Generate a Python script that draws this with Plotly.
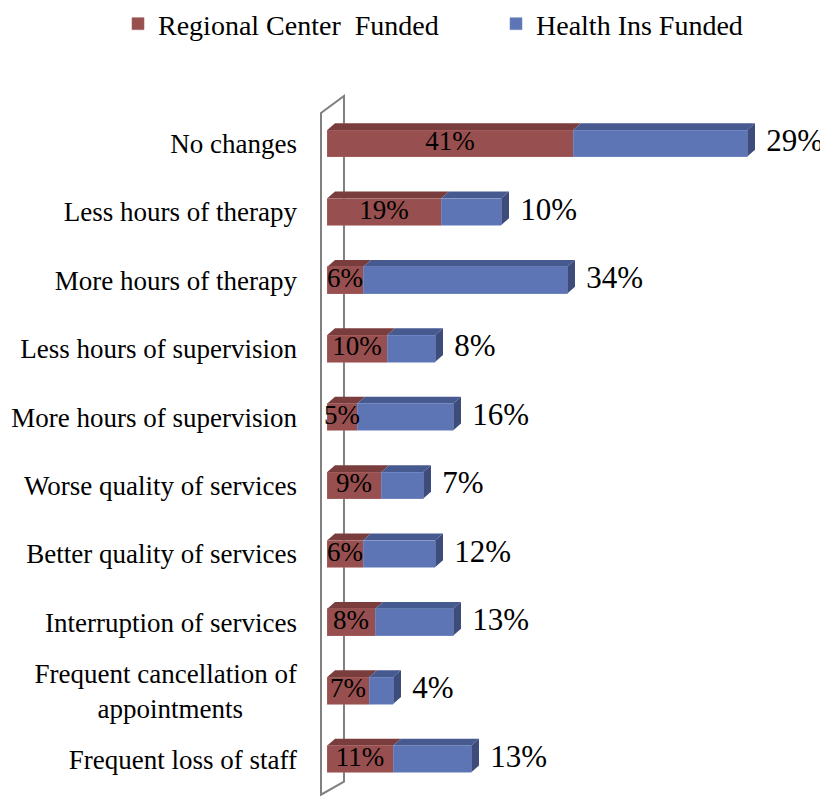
import plotly.graph_objects as go

categories = [
    "No changes",
    "Less hours of therapy",
    "More hours of therapy",
    "Less hours of supervision",
    "More hours of supervision",
    "Worse quality of services",
    "Better quality of services",
    "Interruption of services",
    "Frequent cancellation of<br>appointments\u00a0\u00a0\u00a0\u00a0\u00a0\u00a0\u00a0\u00a0",
    "Frequent loss of staff",
]
regional_center = [41, 19, 6, 10, 5, 9, 6, 8, 7, 11]
health_ins = [29, 10, 34, 8, 16, 7, 12, 13, 4, 13]
series_names = ["Regional Center  Funded", "Health Ins Funded"]

RED, RED_TOP = "#984F4F", "#7A3D3D"
BLUE, BLUE_TOP, BLUE_END = "#5E75B5", "#475A90", "#3E4C7C"
FONT = "Liberation Serif"

# the page body adds an 8px offset, so figure is 8px smaller than the window
W, H = 820, 790
ML, MR, MT, MB = 308, 0, 82, 0
PX_PER_UNIT = 6.0
ZERO_PX = 319
ROW_PX = 68.4
ROW0_PX = 135.5

xmin = -(ZERO_PX - ML) / PX_PER_UNIT
xmax = (W - MR - ZERO_PX) / PX_PER_UNIT
ytop = (MT - ROW0_PX) / ROW_PX
ybot = (H - MB - ROW0_PX) / ROW_PX

idx = list(range(len(categories)))
bar_w = 0.39
dx = 8 / PX_PER_UNIT
dy = 7 / ROW_PX

fig = go.Figure()
fig.add_trace(go.Bar(y=idx, x=regional_center, orientation="h", name=series_names[0],
                     marker=dict(color=RED, line=dict(color="#A86464", width=0.6)), width=bar_w,
                     legend="legend"))
fig.add_trace(go.Bar(y=idx, x=health_ins, orientation="h", name=series_names[1],
                     marker=dict(color=BLUE, line=dict(color="#7B8FC6", width=0.6)), width=bar_w,
                     legend="legend2"))

totals = [r + b for r, b in zip(regional_center, health_ins)]

# inside labels for Regional Center
fig.add_trace(go.Scatter(y=idx, x=[r / 2 for r in regional_center], mode="text",
                         text=[f"{r}%" for r in regional_center], textposition="middle center",
                         textfont=dict(family=FONT, size=27, color="black"),
                         showlegend=False, cliponaxis=False, hoverinfo="skip"))
# outside labels for Health Ins
fig.add_trace(go.Scatter(y=idx, x=[t + 3.2 for t in totals], mode="text",
                         text=[f"{b}%" for b in health_ins], textposition="middle right",
                         textfont=dict(family=FONT, size=31, color="black"),
                         showlegend=False, cliponaxis=False, hoverinfo="skip"))

shapes = []
# back wall
wall = "M -1.0,-0.446 L -1.0,9.52 L 2.83,9.33 L 2.83,-0.696 Z"
shapes.append(dict(type="path", path=wall, xref="x", yref="y", layer="below",
                   line=dict(color="#808080", width=2), fillcolor="rgba(0,0,0,0)"))

for i, r, b in zip(idx, regional_center, health_ins):
    yt = i - bar_w / 2
    yb = i + bar_w / 2
    for x0, x1, col in ((0, r, RED_TOP), (r, r + b, BLUE_TOP)):
        shapes.append(dict(type="path", xref="x", yref="y", layer="below",
                           path=f"M {x0},{yt} L {x1},{yt} L {x1+dx},{yt-dy} L {x0+dx},{yt-dy} Z",
                           fillcolor=col, line=dict(width=0)))
    t = r + b
    shapes.append(dict(type="path", xref="x", yref="y", layer="below",
                       path=f"M {t},{yt} L {t+dx},{yt-dy} L {t+dx},{yb-dy} L {t},{yb} Z",
                       fillcolor=BLUE_END, line=dict(width=0)))

legend_common = dict(orientation="h", xref="container", yref="container",
                     xanchor="left", yanchor="middle", font=dict(family=FONT, size=28),
                     itemclick=False, bgcolor="rgba(0,0,0,0)")

fig.update_layout(
    width=W, height=H,
    margin=dict(l=ML, r=MR, t=MT, b=MB, autoexpand=False),
    barmode="stack",
    bargap=0.6,
    plot_bgcolor="white", paper_bgcolor="white",
    font=dict(family=FONT, color="black"),
    shapes=shapes,
    showlegend=True,
    legend=dict(x=110 / W, y=1 - 16 / H, **legend_common),
    legend2=dict(x=488 / W, y=1 - 16 / H, **legend_common),
    xaxis=dict(range=[xmin, xmax], visible=False, showgrid=False, zeroline=False, automargin=False),
    yaxis=dict(range=[ybot, ytop], tickmode="array", tickvals=idx, ticktext=categories,
               showgrid=False, zeroline=False, showline=False, ticks="", automargin=False,
               ticklabelstandoff=18, tickfont=dict(family=FONT, size=27, color="black")),
)

fig.write_html("out.html")
